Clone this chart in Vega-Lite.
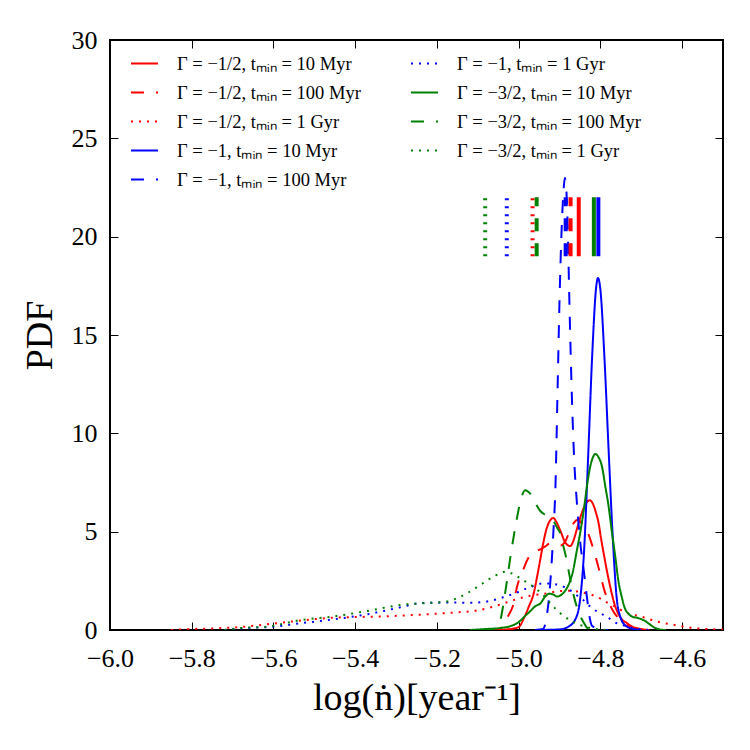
{
"$schema":"https://vega.github.io/schema/vega-lite/v6.json",
"autosize":{"type":"none"},
"padding":{"left":110,"top":40,"right":27,"bottom":120},
"width":613,"height":590,
"config":{
 "view":{"stroke":"black","strokeWidth":2},
 "font":"Liberation Serif, Times New Roman, Times, serif",
 "axis":{"grid":false,"domain":false,"labelFlush":false,"tickColor":"black","tickWidth":1,"tickSize":-8,"labelFont":"Liberation Serif","labelFontSize":26,"labelColor":"black","titleFont":"Liberation Serif","titleFontSize":38,"titleFontWeight":"normal","titleColor":"black"},
 "legend":{"orient":"none","legendX":20,"legendY":9,"columns":2,"symbolType":"stroke","symbolSize":729,"symbolStrokeWidth":2,"labelFont":"Liberation Serif","labelFontSize":18.5,"labelColor":"black","labelOffset":18,"rowPadding":5,"columnPadding":46,"labelLimit":0,"padding":0}
},
"datasets":{
"curves":[
{"s":"r10","x":-5.06,"y":0},{"s":"r10","x":-5.02,"y":0.05},{"s":"r10","x":-5.0,"y":0.15},{"s":"r10","x":-4.985,"y":0.7},{"s":"r10","x":-4.975,"y":1.2},{"s":"r10","x":-4.964,"y":1.8},{"s":"r10","x":-4.955,"y":2.7},{"s":"r10","x":-4.947,"y":3.6},{"s":"r10","x":-4.94,"y":4.4},{"s":"r10","x":-4.931,"y":5.2},{"s":"r10","x":-4.922,"y":5.6},{"s":"r10","x":-4.915,"y":5.7},{"s":"r10","x":-4.908,"y":5.5},{"s":"r10","x":-4.898,"y":5.05},{"s":"r10","x":-4.886,"y":4.45},{"s":"r10","x":-4.874,"y":4.27},{"s":"r10","x":-4.865,"y":4.6},{"s":"r10","x":-4.858,"y":5.1},{"s":"r10","x":-4.848,"y":5.8},{"s":"r10","x":-4.841,"y":6.2},{"s":"r10","x":-4.833,"y":6.5},{"s":"r10","x":-4.826,"y":6.6},{"s":"r10","x":-4.818,"y":6.4},{"s":"r10","x":-4.81,"y":5.9},{"s":"r10","x":-4.805,"y":5.5},{"s":"r10","x":-4.798,"y":4.6},{"s":"r10","x":-4.792,"y":3.9},{"s":"r10","x":-4.784,"y":3.0},{"s":"r10","x":-4.776,"y":2.2},{"s":"r10","x":-4.768,"y":1.5},{"s":"r10","x":-4.76,"y":1.0},{"s":"r10","x":-4.75,"y":0.6},{"s":"r10","x":-4.735,"y":0.35},{"s":"r10","x":-4.72,"y":0.15},{"s":"r10","x":-4.7,"y":0.05},{"s":"r10","x":-4.68,"y":0},
{"s":"r100","x":-5.07,"y":0},{"s":"r100","x":-5.05,"y":0.05},{"s":"r100","x":-5.038,"y":0.15},{"s":"r100","x":-5.026,"y":0.7},{"s":"r100","x":-5.013,"y":1.3},{"s":"r100","x":-5.004,"y":2.2},{"s":"r100","x":-4.99,"y":3.0},{"s":"r100","x":-4.978,"y":3.6},{"s":"r100","x":-4.964,"y":3.95},{"s":"r100","x":-4.947,"y":4.1},{"s":"r100","x":-4.935,"y":4.25},{"s":"r100","x":-4.923,"y":4.4},{"s":"r100","x":-4.91,"y":4.4},{"s":"r100","x":-4.898,"y":4.3},{"s":"r100","x":-4.886,"y":4.5},{"s":"r100","x":-4.874,"y":5.1},{"s":"r100","x":-4.865,"y":5.45},{"s":"r100","x":-4.855,"y":5.6},{"s":"r100","x":-4.845,"y":5.4},{"s":"r100","x":-4.83,"y":4.9},{"s":"r100","x":-4.82,"y":4.3},{"s":"r100","x":-4.81,"y":3.6},{"s":"r100","x":-4.8,"y":2.8},{"s":"r100","x":-4.79,"y":2.0},{"s":"r100","x":-4.78,"y":1.45},{"s":"r100","x":-4.77,"y":1.0},{"s":"r100","x":-4.76,"y":0.7},{"s":"r100","x":-4.75,"y":0.5},{"s":"r100","x":-4.73,"y":0.2},{"s":"r100","x":-4.7,"y":0.05},{"s":"r100","x":-4.68,"y":0},
{"s":"r1g","x":-5.85,"y":0},{"s":"r1g","x":-5.8,"y":0.05},{"s":"r1g","x":-5.75,"y":0.08},{"s":"r1g","x":-5.68,"y":0.15},{"s":"r1g","x":-5.62,"y":0.28},{"s":"r1g","x":-5.56,"y":0.42},{"s":"r1g","x":-5.5,"y":0.55},{"s":"r1g","x":-5.45,"y":0.63},{"s":"r1g","x":-5.4,"y":0.66},{"s":"r1g","x":-5.35,"y":0.68},{"s":"r1g","x":-5.3,"y":0.72},{"s":"r1g","x":-5.25,"y":0.77},{"s":"r1g","x":-5.2,"y":0.83},{"s":"r1g","x":-5.15,"y":0.9},{"s":"r1g","x":-5.1,"y":1.0},{"s":"r1g","x":-5.06,"y":1.2},{"s":"r1g","x":-5.03,"y":1.4},{"s":"r1g","x":-5.0,"y":1.6},{"s":"r1g","x":-4.97,"y":1.75},{"s":"r1g","x":-4.93,"y":1.87},{"s":"r1g","x":-4.9,"y":1.98},{"s":"r1g","x":-4.87,"y":2.0},{"s":"r1g","x":-4.85,"y":1.93},{"s":"r1g","x":-4.82,"y":1.78},{"s":"r1g","x":-4.8,"y":1.6},{"s":"r1g","x":-4.78,"y":1.35},{"s":"r1g","x":-4.76,"y":1.15},{"s":"r1g","x":-4.74,"y":0.9},{"s":"r1g","x":-4.72,"y":0.78},{"s":"r1g","x":-4.7,"y":0.68},{"s":"r1g","x":-4.68,"y":0.55},{"s":"r1g","x":-4.66,"y":0.42},{"s":"r1g","x":-4.63,"y":0.3},{"s":"r1g","x":-4.61,"y":0.22},{"s":"r1g","x":-4.58,"y":0.12},{"s":"r1g","x":-4.55,"y":0.06},{"s":"r1g","x":-4.52,"y":0.03},{"s":"r1g","x":-4.5,"y":0.02},
{"s":"b10","x":-4.95,"y":0},{"s":"b10","x":-4.9,"y":0.03},{"s":"b10","x":-4.88,"y":0.15},{"s":"b10","x":-4.86,"y":0.6},{"s":"b10","x":-4.85,"y":1.5},{"s":"b10","x":-4.84,"y":4.0},{"s":"b10","x":-4.83,"y":8.8},{"s":"b10","x":-4.82,"y":14.0},{"s":"b10","x":-4.81,"y":17.5},{"s":"b10","x":-4.806,"y":17.9},{"s":"b10","x":-4.8,"y":17.3},{"s":"b10","x":-4.79,"y":13.8},{"s":"b10","x":-4.78,"y":9.2},{"s":"b10","x":-4.77,"y":4.8},{"s":"b10","x":-4.76,"y":1.6},{"s":"b10","x":-4.75,"y":0.6},{"s":"b10","x":-4.74,"y":0.25},{"s":"b10","x":-4.72,"y":0.05},{"s":"b10","x":-4.7,"y":0},
{"s":"b100","x":-4.96,"y":0},{"s":"b100","x":-4.94,"y":0.05},{"s":"b100","x":-4.935,"y":0.3},{"s":"b100","x":-4.93,"y":0.9},{"s":"b100","x":-4.925,"y":1.8},{"s":"b100","x":-4.92,"y":3.2},{"s":"b100","x":-4.915,"y":5.0},{"s":"b100","x":-4.91,"y":7.3},{"s":"b100","x":-4.905,"y":12.0},{"s":"b100","x":-4.9,"y":16.8},{"s":"b100","x":-4.895,"y":20.3},{"s":"b100","x":-4.89,"y":22.4},{"s":"b100","x":-4.887,"y":23.0},{"s":"b100","x":-4.884,"y":22.6},{"s":"b100","x":-4.88,"y":20.5},{"s":"b100","x":-4.876,"y":16.8},{"s":"b100","x":-4.87,"y":12.0},{"s":"b100","x":-4.864,"y":8.6},{"s":"b100","x":-4.858,"y":6.6},{"s":"b100","x":-4.85,"y":4.6},{"s":"b100","x":-4.84,"y":2.9},{"s":"b100","x":-4.835,"y":2.0},{"s":"b100","x":-4.83,"y":1.2},{"s":"b100","x":-4.825,"y":0.5},{"s":"b100","x":-4.82,"y":0.2},{"s":"b100","x":-4.8,"y":0.03},{"s":"b100","x":-4.78,"y":0},
{"s":"b1g","x":-5.72,"y":0},{"s":"b1g","x":-5.665,"y":0.1},{"s":"b1g","x":-5.6,"y":0.17},{"s":"b1g","x":-5.535,"y":0.34},{"s":"b1g","x":-5.45,"y":0.55},{"s":"b1g","x":-5.37,"y":0.8},{"s":"b1g","x":-5.29,"y":1.15},{"s":"b1g","x":-5.24,"y":1.37},{"s":"b1g","x":-5.2,"y":1.39},{"s":"b1g","x":-5.16,"y":1.4},{"s":"b1g","x":-5.12,"y":1.38},{"s":"b1g","x":-5.08,"y":1.44},{"s":"b1g","x":-5.04,"y":1.65},{"s":"b1g","x":-5.005,"y":1.9},{"s":"b1g","x":-4.97,"y":2.2},{"s":"b1g","x":-4.94,"y":2.37},{"s":"b1g","x":-4.92,"y":2.35},{"s":"b1g","x":-4.9,"y":2.28},{"s":"b1g","x":-4.875,"y":2.03},{"s":"b1g","x":-4.86,"y":1.8},{"s":"b1g","x":-4.842,"y":1.53},{"s":"b1g","x":-4.82,"y":1.1},{"s":"b1g","x":-4.8,"y":0.85},{"s":"b1g","x":-4.784,"y":0.68},{"s":"b1g","x":-4.77,"y":0.45},{"s":"b1g","x":-4.745,"y":0.25},{"s":"b1g","x":-4.72,"y":0.1},{"s":"b1g","x":-4.7,"y":0.03},{"s":"b1g","x":-4.68,"y":0},
{"s":"g10","x":-5.12,"y":0},{"s":"g10","x":-5.08,"y":0.05},{"s":"g10","x":-5.045,"y":0.1},{"s":"g10","x":-5.02,"y":0.2},{"s":"g10","x":-5.0,"y":0.4},{"s":"g10","x":-4.985,"y":0.7},{"s":"g10","x":-4.972,"y":0.95},{"s":"g10","x":-4.96,"y":1.2},{"s":"g10","x":-4.947,"y":1.35},{"s":"g10","x":-4.935,"y":1.7},{"s":"g10","x":-4.925,"y":1.85},{"s":"g10","x":-4.915,"y":1.8},{"s":"g10","x":-4.906,"y":1.7},{"s":"g10","x":-4.895,"y":1.8},{"s":"g10","x":-4.886,"y":2.0},{"s":"g10","x":-4.876,"y":2.4},{"s":"g10","x":-4.867,"y":3.0},{"s":"g10","x":-4.858,"y":4.0},{"s":"g10","x":-4.849,"y":5.0},{"s":"g10","x":-4.84,"y":6.2},{"s":"g10","x":-4.833,"y":7.3},{"s":"g10","x":-4.825,"y":8.3},{"s":"g10","x":-4.818,"y":8.8},{"s":"g10","x":-4.812,"y":8.95},{"s":"g10","x":-4.805,"y":8.8},{"s":"g10","x":-4.796,"y":8.3},{"s":"g10","x":-4.788,"y":7.3},{"s":"g10","x":-4.78,"y":6.3},{"s":"g10","x":-4.772,"y":5.0},{"s":"g10","x":-4.764,"y":3.8},{"s":"g10","x":-4.756,"y":2.5},{"s":"g10","x":-4.748,"y":1.7},{"s":"g10","x":-4.74,"y":1.1},{"s":"g10","x":-4.73,"y":0.8},{"s":"g10","x":-4.72,"y":0.66},{"s":"g10","x":-4.71,"y":0.62},{"s":"g10","x":-4.7,"y":0.55},{"s":"g10","x":-4.69,"y":0.45},{"s":"g10","x":-4.68,"y":0.3},{"s":"g10","x":-4.67,"y":0.15},{"s":"g10","x":-4.655,"y":0.03},{"s":"g10","x":-4.64,"y":0},
{"s":"g100","x":-5.09,"y":0},{"s":"g100","x":-5.07,"y":0.02},{"s":"g100","x":-5.057,"y":0.1},{"s":"g100","x":-5.045,"y":0.5},{"s":"g100","x":-5.033,"y":1.9},{"s":"g100","x":-5.021,"y":3.6},{"s":"g100","x":-5.005,"y":5.6},{"s":"g100","x":-4.995,"y":6.6},{"s":"g100","x":-4.984,"y":7.1},{"s":"g100","x":-4.975,"y":7.0},{"s":"g100","x":-4.964,"y":6.7},{"s":"g100","x":-4.955,"y":6.3},{"s":"g100","x":-4.947,"y":6.05},{"s":"g100","x":-4.938,"y":5.9},{"s":"g100","x":-4.928,"y":5.8},{"s":"g100","x":-4.915,"y":5.55},{"s":"g100","x":-4.906,"y":5.2},{"s":"g100","x":-4.898,"y":4.9},{"s":"g100","x":-4.891,"y":4.3},{"s":"g100","x":-4.882,"y":3.5},{"s":"g100","x":-4.875,"y":2.7},{"s":"g100","x":-4.867,"y":1.9},{"s":"g100","x":-4.858,"y":1.2},{"s":"g100","x":-4.849,"y":0.7},{"s":"g100","x":-4.84,"y":0.35},{"s":"g100","x":-4.833,"y":0.12},{"s":"g100","x":-4.82,"y":0.03},{"s":"g100","x":-4.8,"y":0},
{"s":"g1g","x":-5.72,"y":0},{"s":"g1g","x":-5.68,"y":0.1},{"s":"g1g","x":-5.616,"y":0.17},{"s":"g1g","x":-5.535,"y":0.5},{"s":"g1g","x":-5.45,"y":0.7},{"s":"g1g","x":-5.37,"y":0.97},{"s":"g1g","x":-5.29,"y":1.27},{"s":"g1g","x":-5.21,"y":1.39},{"s":"g1g","x":-5.176,"y":1.45},{"s":"g1g","x":-5.15,"y":1.63},{"s":"g1g","x":-5.127,"y":1.86},{"s":"g1g","x":-5.094,"y":2.29},{"s":"g1g","x":-5.062,"y":2.71},{"s":"g1g","x":-5.03,"y":2.97},{"s":"g1g","x":-5.01,"y":2.8},{"s":"g1g","x":-4.99,"y":2.55},{"s":"g1g","x":-4.964,"y":2.2},{"s":"g1g","x":-4.94,"y":1.78},{"s":"g1g","x":-4.923,"y":1.37},{"s":"g1g","x":-4.898,"y":0.85},{"s":"g1g","x":-4.874,"y":0.5},{"s":"g1g","x":-4.849,"y":0.25},{"s":"g1g","x":-4.825,"y":0.1},{"s":"g1g","x":-4.8,"y":0.02},{"s":"g1g","x":-4.78,"y":0}
],
"markers":[
{"s":"g1g","m":-5.082},{"s":"b1g","m":-5.029},{"s":"r1g","m":-4.966},{"s":"g100","m":-4.956},{"s":"b100","m":-4.885},{"s":"r100","m":-4.873},{"s":"r10","m":-4.853},{"s":"g10","m":-4.816},{"s":"b10","m":-4.805}
]
},
"layer":[
{
 "data":{"name":"curves"},
 "mark":{"type":"line","strokeWidth":2,"clip":true,"interpolate":"monotone"},
 "encoding":{
  "x":{"field":"x","type":"quantitative","scale":{"domain":[-6,-4.5],"nice":false,"zero":false},
       "axis":{"orient":"bottom","values":[-6,-5.8,-5.6,-5.4,-5.2,-5,-4.8,-4.6],"format":".1f","labelFlush":false,"labelFont":"Liberation Serif","labelPadding":23,"title":"log(ṅ)[year⁻¹]","titlePadding":8}},
  "y":{"field":"y","type":"quantitative","scale":{"domain":[0,30],"nice":false},
       "axis":{"orient":"left","values":[0,5,10,15,20,25,30],"labelFlush":false,"labelFont":"Liberation Serif","labelPadding":21,"title":"PDF","titlePadding":12}},
  "color":{"field":"s","type":"nominal",
   "scale":{"domain":["r10","r100","r1g","b10","b100","b1g","g10","g100","g1g"],
            "range":["#ff0000","#ff0000","#ff0000","#0000ff","#0000ff","#0000ff","#008000","#008000","#008000"]},
   "legend":{"title":null,"labelExpr":"datum.label=='r10'?'Γ = −1/2, tₘᵢₙ = 10 Myr':datum.label=='r100'?'Γ = −1/2, tₘᵢₙ = 100 Myr':datum.label=='r1g'?'Γ = −1/2, tₘᵢₙ = 1 Gyr':datum.label=='b10'?'Γ = −1, tₘᵢₙ = 10 Myr':datum.label=='b100'?'Γ = −1, tₘᵢₙ = 100 Myr':datum.label=='b1g'?'Γ = −1, tₘᵢₙ = 1 Gyr':datum.label=='g10'?'Γ = −3/2, tₘᵢₙ = 10 Myr':datum.label=='g100'?'Γ = −3/2, tₘᵢₙ = 100 Myr':'Γ = −3/2, tₘᵢₙ = 1 Gyr'"}},
  "strokeDash":{"field":"s","type":"nominal",
   "scale":{"domain":["r10","r100","r1g","b10","b100","b1g","g10","g100","g1g"],
            "range":[[1,0],[13,12],[2,6],[1,0],[13,12],[2,6],[1,0],[13,12],[2,6]]},
   "legend":{"title":null,"labelExpr":"datum.label=='r10'?'Γ = −1/2, tₘᵢₙ = 10 Myr':datum.label=='r100'?'Γ = −1/2, tₘᵢₙ = 100 Myr':datum.label=='r1g'?'Γ = −1/2, tₘᵢₙ = 1 Gyr':datum.label=='b10'?'Γ = −1, tₘᵢₙ = 10 Myr':datum.label=='b100'?'Γ = −1, tₘᵢₙ = 100 Myr':datum.label=='b1g'?'Γ = −1, tₘᵢₙ = 1 Gyr':datum.label=='g10'?'Γ = −3/2, tₘᵢₙ = 10 Myr':datum.label=='g100'?'Γ = −3/2, tₘᵢₙ = 100 Myr':'Γ = −3/2, tₘᵢₙ = 1 Gyr'"}}
 }
},
{
 "data":{"name":"markers"},
 "mark":{"type":"rule","strokeWidth":4},
 "encoding":{
  "x":{"field":"m","type":"quantitative","axis":{"orient":"top","values":[-6,-5.8,-5.6,-5.4,-5.2,-5,-4.8,-4.6],"labels":false,"title":null}},
  "y":{"datum":19,"type":"quantitative","axis":{"orient":"right","values":[0,5,10,15,20,25,30],"labels":false,"title":null}},
  "y2":{"datum":22},
  "color":{"field":"s","type":"nominal"},
  "strokeDash":{"field":"s","type":"nominal"}
 }
}
],
"resolve":{"axis":{"x":"independent","y":"independent"}}
}
